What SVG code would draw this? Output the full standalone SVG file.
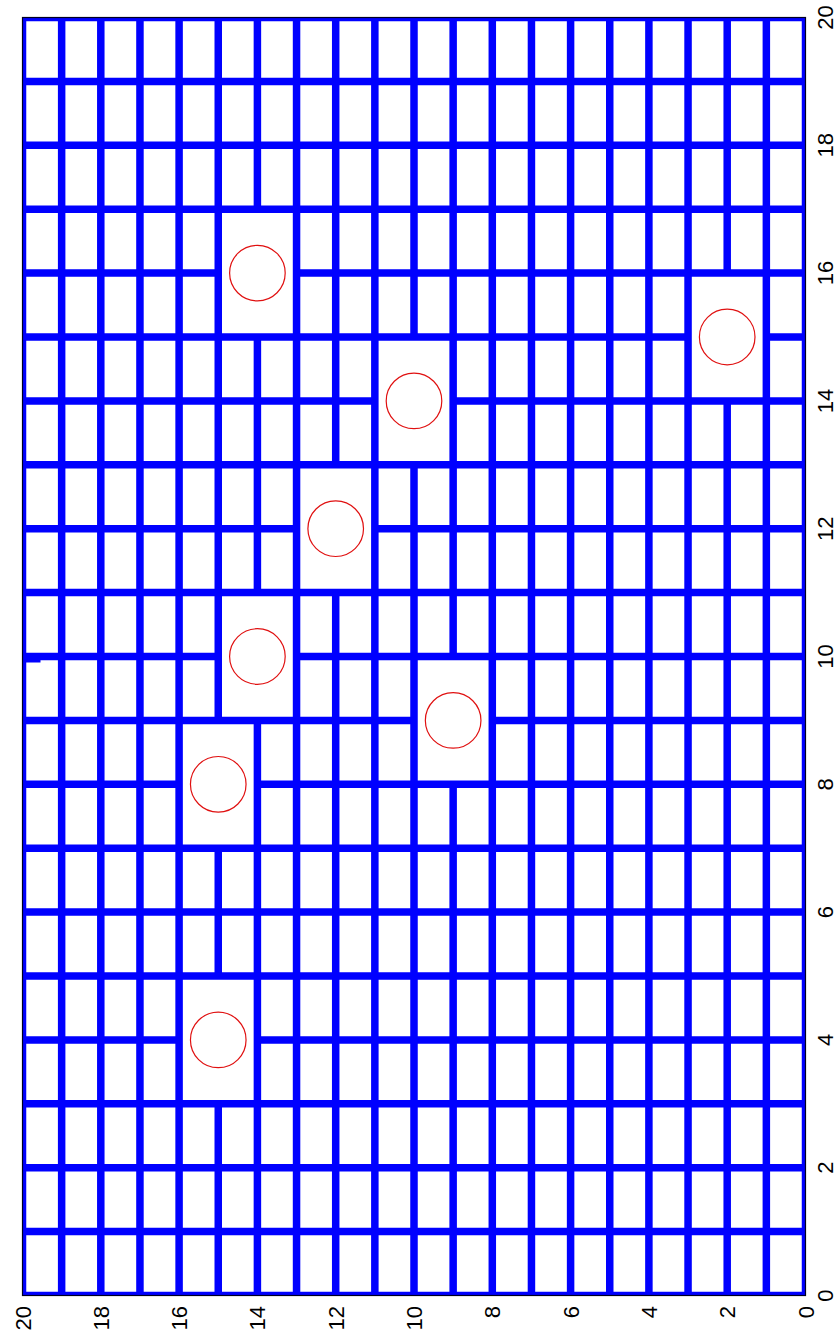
<svg xmlns="http://www.w3.org/2000/svg" width="840" height="1334" viewBox="0 0 840 1334">
<style>
.grid{fill:none;stroke:#0000FF;stroke-width:7.5;stroke-linecap:butt}
.mk{fill:none;stroke:#E01010;stroke-width:1.2}
.lbl{font-family:"Liberation Sans",Arial,sans-serif;font-size:22px;fill:#000}
.r{text-anchor:middle}
.b{text-anchor:end}
</style>
<defs>
<clipPath id="ax"><rect x="22.5" y="17.5" width="783" height="1278"/></clipPath>
</defs>
<rect width="840" height="1334" fill="#FFFFFF"/>
<g id="grid" clip-path="url(#ax)">
<path class="grid" d="M22.5 1231.6H805.5 M22.5 1167.7H805.5 M22.5 1103.8H805.5 M22.5 1039.9H179.1 M257.4 1039.9H805.5 M22.5 976H805.5 M22.5 912.1H805.5 M22.5 848.2H805.5 M22.5 784.3H179.1 M257.4 784.3H805.5 M22.5 720.4H414 M492.3 720.4H805.5 M22.5 656.5H218.25 M296.55 656.5H805.5 M22.5 592.6H805.5 M22.5 528.7H296.55 M374.85 528.7H805.5 M22.5 464.8H805.5 M22.5 400.9H374.85 M453.15 400.9H805.5 M22.5 337H688.05 M766.35 337H805.5 M22.5 273.1H218.25 M296.55 273.1H805.5 M22.5 209.2H805.5 M22.5 145.3H805.5 M22.5 81.4H805.5"/>
<path class="grid" d="M766.35 17.5V1295.5 M727.2 17.5V273.1 M727.2 400.9V1295.5 M688.05 17.5V1295.5 M648.9 17.5V1295.5 M609.75 17.5V1295.5 M570.6 17.5V1295.5 M531.45 17.5V1295.5 M492.3 17.5V1295.5 M453.15 17.5V656.5 M453.15 784.3V1295.5 M414 17.5V337 M414 464.8V1295.5 M374.85 17.5V1295.5 M335.7 17.5V464.8 M335.7 592.6V1295.5 M296.55 17.5V1295.5 M257.4 17.5V209.2 M257.4 337V592.6 M257.4 720.4V1295.5 M218.25 17.5V720.4 M218.25 848.2V976 M218.25 1103.8V1295.5 M179.1 17.5V1295.5 M139.95 17.5V1295.5 M100.8 17.5V1295.5 M61.65 17.5V1295.5"/>
<rect class="grid" x="22.5" y="17.5" width="783" height="1278"/>
<rect x="22.5" y="658.5" width="18" height="4" fill="#0000FF"/>
</g>
<rect id="axes-box" x="22.5" y="17.5" width="783" height="1278" fill="none" stroke="#000022" stroke-width="1.2"/>
<g id="markers">
<circle class="mk" cx="218.25" cy="1039.9" r="27.8"/>
<circle class="mk" cx="218.25" cy="784.3" r="27.8"/>
<circle class="mk" cx="257.4" cy="656.5" r="27.8"/>
<circle class="mk" cx="335.7" cy="528.7" r="27.8"/>
<circle class="mk" cx="414" cy="400.9" r="27.8"/>
<circle class="mk" cx="257.4" cy="273.1" r="27.8"/>
<circle class="mk" cx="453.15" cy="720.4" r="27.8"/>
<circle class="mk" cx="727.2" cy="337" r="27.8"/>
</g>
<g id="x-ticks" class="lbl">
<text class="r" transform="translate(833 1295.5) rotate(-90)">0</text>
<text class="r" transform="translate(833 1167.7) rotate(-90)">2</text>
<text class="r" transform="translate(833 1039.9) rotate(-90)">4</text>
<text class="r" transform="translate(833 912.1) rotate(-90)">6</text>
<text class="r" transform="translate(833 784.3) rotate(-90)">8</text>
<text class="r" transform="translate(833 656.5) rotate(-90)">10</text>
<text class="r" transform="translate(833 528.7) rotate(-90)">12</text>
<text class="r" transform="translate(833 400.9) rotate(-90)">14</text>
<text class="r" transform="translate(833 273.1) rotate(-90)">16</text>
<text class="r" transform="translate(833 145.3) rotate(-90)">18</text>
<text class="r" transform="translate(833 17.5) rotate(-90)">20</text>
</g>
<g id="y-ticks" class="lbl">
<text class="b" transform="translate(813.5 1306) rotate(-90)">0</text>
<text class="b" transform="translate(735.2 1306) rotate(-90)">2</text>
<text class="b" transform="translate(656.9 1306) rotate(-90)">4</text>
<text class="b" transform="translate(578.6 1306) rotate(-90)">6</text>
<text class="b" transform="translate(500.3 1306) rotate(-90)">8</text>
<text class="b" transform="translate(422 1306) rotate(-90)">10</text>
<text class="b" transform="translate(343.7 1306) rotate(-90)">12</text>
<text class="b" transform="translate(265.4 1306) rotate(-90)">14</text>
<text class="b" transform="translate(187.1 1306) rotate(-90)">16</text>
<text class="b" transform="translate(108.8 1306) rotate(-90)">18</text>
<text class="b" transform="translate(30.5 1306) rotate(-90)">20</text>
</g>
</svg>
